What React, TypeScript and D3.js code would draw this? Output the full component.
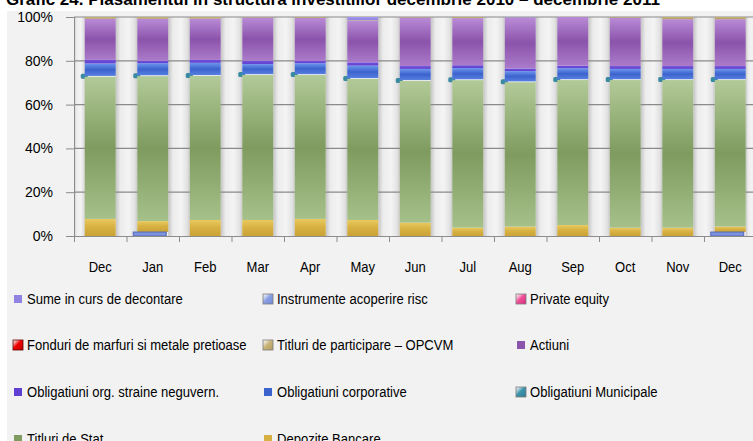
import { useEffect, useRef } from "react";
import * as d3 from "d3";

// months Dec 2010 .. Dec 2011
const months = ["Dec", "Jan", "Feb", "Mar", "Apr", "May", "Jun", "Jul", "Aug", "Sep", "Oct", "Nov", "Dec"];
const yTicks = [0, 0.2, 0.4, 0.6, 0.8, 1];

// shares in % per month
const instrumenteRisc = [0, 1.8, 0, 0, 0, 0, 0, 0, 0, 0, 0, 0, 1.8];
const depoziteBancare = [7.8, 5.0, 7.3, 7.3, 7.8, 7.3, 6.1, 3.8, 4.3, 5.0, 3.8, 3.8, 2.5];
const titluriStat = [64.9, 66.2, 65.7, 66.2, 65.7, 64.4, 64.7, 67.0, 65.9, 66.2, 67.4, 67.4, 66.9];
const obligMunicipale = [0.4, 0.4, 0.4, 0.4, 0.4, 0.4, 0.4, 0.4, 0.4, 0.4, 0.4, 0.4, 0.4];
const obligCorporative = [5.7, 5.5, 5.6, 4.6, 5.0, 5.7, 5.1, 5.1, 4.7, 5.0, 4.7, 4.7, 4.7];
const obligStraine = [1.6, 1.1, 1.3, 1.5, 1.0, 1.5, 1.3, 1.3, 1.2, 1.2, 1.3, 1.3, 1.3];
const actiuni = [18.8, 19.2, 18.9, 19.8, 19.7, 18.9, 22.2, 21.4, 23.2, 22.2, 22.1, 21.4, 21.4];
const titluriOpcvm = [0.8, 0.8, 0.7, 0.2, 0.4, 0.3, 0.2, 0.5, 0.1, 0, 0.3, 1.0, 1.0];
const fonduriMarfuri = [0, 0, 0, 0, 0, 0, 0, 0, 0, 0, 0, 0, 0];
const privateEquity = [0, 0, 0, 0, 0, 0, 0, 0, 0, 0, 0, 0, 0];
const sumeDecontare = [0, 0, 0, 0, 0, 1.5, 0, 0, 0.2, 0, 0, 0, 0];

type Series = {
  key: string;
  label: string;
  values: number[];
  stops: string[];
  bevel?: boolean;
};

// stacking order: bottom -> top
const series: Series[] = [
  { key: "risc", label: "Instrumente acoperire risc", values: instrumenteRisc, stops: ["#8aa0e4", "#6f88d6"], bevel: true },
  { key: "dep", label: "Depozite Bancare", values: depoziteBancare, stops: ["#e8c95e", "#d6b040", "#c9a337"] },
  { key: "stat", label: "Titluri de Stat", values: titluriStat, stops: ["#b2ca98", "#7f9b5f", "#a6c08a"] },
  { key: "mun", label: "Obligatiuni Municipale", values: obligMunicipale, stops: ["#3f95ad", "#2f7890"], bevel: true },
  { key: "corp", label: "Obligatiuni corporative", values: obligCorporative, stops: ["#6c96ee", "#3c63cd", "#567fe0"] },
  { key: "str", label: "Obligatiuni org. straine neguvern.", values: obligStraine, stops: ["#7052dc", "#6040d0"] },
  { key: "act", label: "Actiuni", values: actiuni, stops: ["#b98bd6", "#8b53ab", "#ab7bca"] },
  { key: "opc", label: "Titluri de participare \u2013 OPCVM", values: titluriOpcvm, stops: ["#c9b47a", "#b09a60"], bevel: true },
  { key: "fon", label: "Fonduri de marfuri si metale pretioase", values: fonduriMarfuri, stops: ["#f00000", "#c00000"], bevel: true },
  { key: "pe", label: "Private equity", values: privateEquity, stops: ["#f0509a", "#d82878"], bevel: true },
  { key: "sume", label: "Sume in curs de decontare", values: sumeDecontare, stops: ["#a598ec", "#8f82e0"] },
];

// legend, row by row
const legendOrder = ["sume", "risc", "pe", "fon", "opc", "act", "str", "corp", "mun", "stat", "dep"];

const W = 753;
const H = 441;
const X0 = 74;
const X1 = 756.5;
const Y0 = 236;
const Y1 = 17;
const FONT = "'Liberation Sans', Arial, sans-serif";
const NARROW = 0.87;

export default function App() {
  const axisRef = useRef<SVGGElement>(null);

  const x = d3.scaleBand<number>().domain(months.map((_, i) => i)).range([X0, X1]).paddingInner(0.41).paddingOuter(0.205);
  const y = d3.scaleLinear().domain([0, 1]).range([Y0, Y1]);
  const step = x.step();

  const rows = months.map((_, i) => {
    const r: any = { i };
    series.forEach((s) => (r[s.key] = s.values[i]));
    return r;
  });
  const stacked = d3
    .stack<any>()
    .keys(series.map((s) => s.key))
    .offset(d3.stackOffsetExpand)(rows);
  const layerOf = (key: string) => stacked[series.findIndex((s) => s.key === key)];

  useEffect(() => {
    const g = d3.select(axisRef.current);
    g.selectAll("*").remove();
    const yAxis = d3.axisLeft(y).tickValues(yTicks).tickSize(8).tickFormat(d3.format(".0%") as any);
    const ya = g.append("g").attr("transform", `translate(${X0},0)`).call(yAxis);
    ya.select(".domain").attr("stroke", "#8c8c8c");
    ya.selectAll(".tick line").attr("stroke", "#8c8c8c");
    ya.selectAll(".tick text")
      .attr("x", -21)
      .attr("font-size", 14)
      .attr("font-family", FONT)
      .attr("fill", "#000");

    const bounds = d3.range(months.length + 1).map((k) => X0 + k * step);
    const xb = d3.scaleLinear().domain([X0, X1]).range([X0, X1]);
    const xAxis = d3.axisBottom(xb).tickValues(bounds).tickSize(6).tickFormat(() => "");
    const xa = g.append("g").attr("transform", `translate(0,${Y0})`).call(xAxis);
    xa.select(".domain").attr("stroke", "#8c8c8c").attr("d", `M${X0 - 8},0.5H${X1}`);
    xa.selectAll(".tick line").attr("stroke", "#8c8c8c");
  }, []);

  // white pillars between the bars
  const gaps = d3.range(months.length + 1).map((k) => {
    const left = k === 0 ? X0 : (x(k - 1) as number) + x.bandwidth();
    const right = k === months.length ? X1 : (x(k) as number);
    return { left, right };
  });

  const legendCols = [13, 263, 516];
  const legendRows = [299, 345, 392, 439];

  return (
    <svg width={W} height={H} style={{ position: "absolute", left: 0, top: 0 }} fontFamily={FONT}>
      <defs>
        <linearGradient id="pillar" x1="0" y1="0" x2="1" y2="0">
          <stop offset="0" stopColor="#c4c4c4" />
          <stop offset="0.22" stopColor="#ececec" />
          <stop offset="0.6" stopColor="#f4f4f4" />
          <stop offset="0.88" stopColor="#e2e2e2" />
          <stop offset="1" stopColor="#c9c9c9" />
        </linearGradient>
        {series.map((s) => (
          <linearGradient key={s.key} id={`g-${s.key}`} x1="0" y1="0" x2="0" y2="1">
            {s.stops.map((c, j) => (
              <stop key={j} offset={s.stops.length === 1 ? 0 : j / (s.stops.length - 1)} stopColor={c} />
            ))}
          </linearGradient>
        ))}
        {series.map((s) => (
          <linearGradient key={s.key} id={`l-${s.key}`} x1="0" y1="0" x2="1" y2="1">
            <stop offset="0" stopColor="#ffffff" stopOpacity="0.7" />
            <stop offset="0.45" stopColor={s.stops[0]} />
            <stop offset="1" stopColor={s.stops[s.stops.length - 1]} />
          </linearGradient>
        ))}
      </defs>

      <rect x={0} y={0} width={W} height={H} fill="#ffffff" />
      <rect x={7} y={11} width={W - 7} height={H - 11} fill="#f2f2f2" />

      <text x={6} y={5} fontSize={17} fontWeight="bold" fill="#000">
        Grafic 24. Plasamentul in structura investitiilor decembrie 2010 {"\u2013"} decembrie 2011
      </text>

      {gaps.map((gp, k) => (
        <rect key={k} x={gp.left} y={Y1} width={gp.right - gp.left} height={Y0 - Y1} fill="url(#pillar)" />
      ))}

      {yTicks.slice(1).map((t) => (
        <line key={t} x1={X0} x2={X1} y1={y(t)} y2={y(t)} stroke="#8a8a8a" strokeWidth={1.2} />
      ))}

      {/* municipal bonds: tiny slab seen from the side, left of each bar */}
      {layerOf("mun").map((d, i) =>
        obligMunicipale[i] > 0 ? (
          <rect key={i} x={(x(i) as number) - 4} y={y(d[0]) - 3} width={7} height={Math.max(y(d[0]) - y(d[1]), 5)} rx={1.5} fill="#3a8aa2" />
        ) : null
      )}

      {stacked.map((layer, li) => {
        const s = series[li];
        if (s.key === "mun" || s.key === "risc") return null;
        return (
          <g key={s.key}>
            {layer.map((d, i) =>
              s.values[i] > 0 ? (
                <rect
                  key={i}
                  x={x(i) as number}
                  y={y(d[1])}
                  width={x.bandwidth()}
                  height={y(d[0]) - y(d[1])}
                  fill={`url(#g-${s.key})`}
                />
              ) : null
            )}
          </g>
        );
      })}

      {/* hedging instruments: thin slab at the floor, shifted by the 3D depth */}
      {layerOf("risc").map((d, i) =>
        instrumenteRisc[i] > 0 ? (
          <rect
            key={i}
            x={(x(i) as number) - 4}
            y={y(d[1])}
            width={x.bandwidth() + 2}
            height={y(d[0]) - y(d[1])}
            fill="#7d94dc"
            stroke="#4f68bd"
            strokeWidth={1}
          />
        ) : null
      )}

      <g ref={axisRef} />

      {months.map((m, i) => (
        <text
          key={i}
          transform={`translate(${(x(i) as number) + x.bandwidth() / 2},272) scale(${NARROW},1)`}
          textAnchor="middle"
          fontSize={15}
          fill="#000"
        >
          {m}
        </text>
      ))}

      {legendOrder.map((key, n) => {
        const s = series.find((q) => q.key === key)!;
        const cx = legendCols[n % 3];
        const cy = legendRows[Math.floor(n / 3)];
        return (
          <g key={key}>
            {s.bevel ? (
              <rect x={cx} y={cy - 5} width={10} height={10} fill={`url(#l-${s.key})`} stroke={s.key === "fon" ? "#600000" : "#7a7a7a"} strokeWidth={0.8} />
            ) : (
              <rect x={cx + 1} y={cy - 4} width={8} height={8} fill={s.stops[Math.min(1, s.stops.length - 1)]} />
            )}
            <text transform={`translate(${cx + 14},${cy + 5}) scale(${NARROW},1)`} fontSize={15} fill="#000">
              {s.label}
            </text>
          </g>
        );
      })}
    </svg>
  );
}
